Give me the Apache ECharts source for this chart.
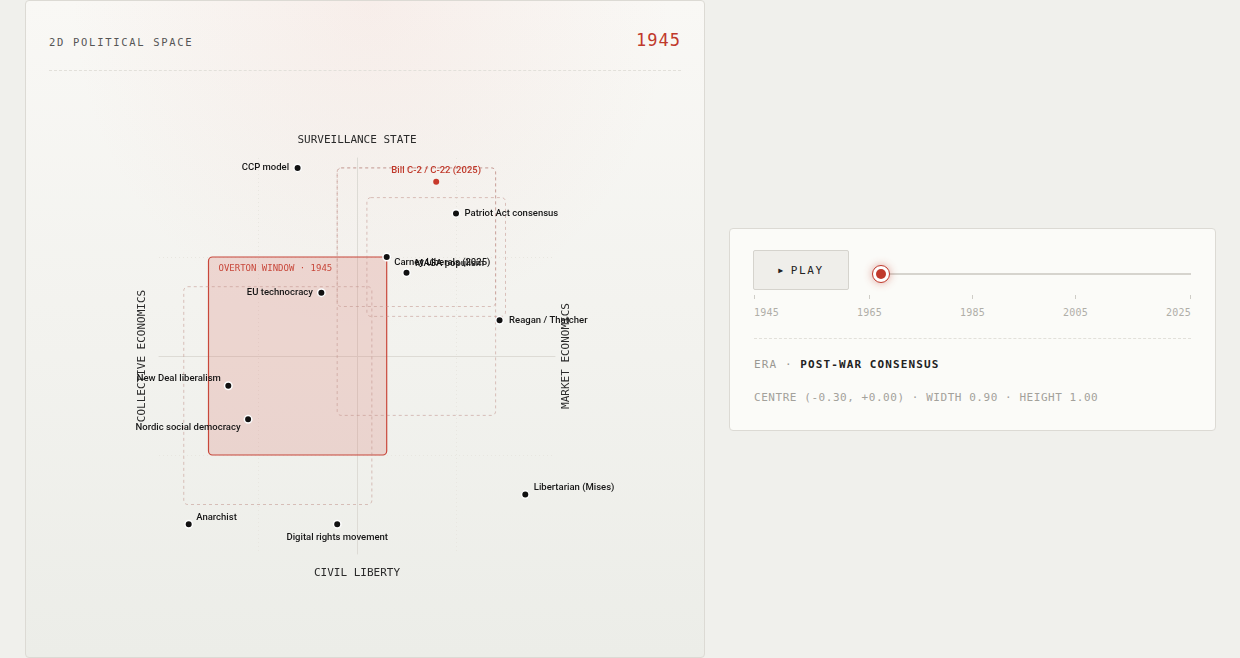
<!DOCTYPE html>
<html><head><meta charset="utf-8">
<script src="https://cdn.jsdelivr.net/npm/echarts@6/dist/echarts.min.js"></script>
<style>
html,body{margin:0;padding:0;width:1240px;height:658px;background:#f0f0ec;overflow:hidden;font-family:"DejaVu Sans Mono",monospace;}
#card{position:absolute;left:25px;top:0;width:680px;height:658px;box-sizing:border-box;border:1px solid #dcdad4;border-radius:4px;
background:radial-gradient(ellipse 300px 330px at 345px 0px, rgba(236,170,160,0.13), rgba(236,170,160,0) 100%), linear-gradient(#f9f8f5,#ecede8);}
#title{position:absolute;left:23px;top:35px;font-size:10.5px;letter-spacing:1.7px;color:#555;}
#year{position:absolute;right:23px;top:29px;font-size:17px;letter-spacing:1px;color:#c0392b;}
#sep{position:absolute;left:23px;right:23px;top:69px;border-top:1px dashed #e2e0da;}
#chart{position:absolute;left:25px;top:0;width:680px;height:658px;z-index:1;}
#panel{position:absolute;left:729px;top:228px;width:487px;height:203px;box-sizing:border-box;border:1px solid #dcdad4;border-radius:4px;background:#fbfbf8;}
#play{position:absolute;left:23px;top:21px;width:96px;height:40px;box-sizing:border-box;border:1px solid #d5d3cd;border-radius:2px;background:#efeeea;
display:flex;align-items:center;justify-content:center;font-size:11px;letter-spacing:1.6px;color:#222;}
#play .tri{font-size:8px;margin-right:6px;}
#track{position:absolute;left:152px;top:44px;width:309px;height:2px;background:#d6d4ce;}
#knob{position:absolute;left:142px;top:36px;width:18px;height:18px;box-sizing:border-box;border-radius:50%;border:1.5px solid #c0392b;background:#fff;box-shadow:0 0 8px rgba(192,57,43,0.45);}
#knob::after{content:"";position:absolute;left:2.5px;top:2.5px;width:10px;height:10px;border-radius:50%;background:#c0392b;}
#ticks{position:absolute;left:24px;top:66px;width:437px;display:flex;justify-content:space-between;}
#ticks .t{position:relative;font-size:10px;letter-spacing:0.2px;color:#b0aea8;padding-top:12px;}
#ticks .t::before{content:"";position:absolute;top:0;width:1px;height:4px;background:#cfcdc7;left:50%;}
#ticks .t.first::before{left:0;}
#ticks .t.last::before{left:auto;right:0;}
#psep{position:absolute;left:24px;top:109px;width:437px;border-top:1px dashed #e2e0da;}
#era{position:absolute;left:24px;top:129px;font-size:11px;letter-spacing:1.1px;color:#9a9893;}
#era b{color:#222;font-weight:600;}
#centre{position:absolute;left:24px;top:162px;font-size:11px;letter-spacing:0.55px;color:#a3a19b;}
</style></head>
<body>
<div id="card"><div id="title">2D POLITICAL SPACE</div><div id="year"></div><div id="sep"></div></div>
<div id="chart"></div>
<div id="panel">
  <div id="play"><span class="tri">▶</span>PLAY</div>
  <div id="track"></div><div id="knob"></div>
  <div id="ticks"></div>
  <div id="psep"></div>
  <div id="era"></div>
  <div id="centre"></div>
</div>
<script>
// ---- data ----
const pointNames = ['CCP model','Bill C-2 / C-22 (2025)','Patriot Act consensus','Carney Liberals (2025)','MAGA populism','EU technocracy','Reagan / Thatcher','New Deal liberalism','Nordic social democracy','Libertarian (Mises)','Anarchist','Digital rights movement'];
const pointX = [-0.30, 0.40, 0.50, 0.15, 0.25, -0.18, 0.72, -0.65, -0.55, 0.85, -0.85, -0.10];
const pointY = [0.95, 0.88, 0.72, 0.50, 0.42, 0.32, 0.18, -0.15, -0.32, -0.70, -0.85, -0.85];
const highlightedPoints = ['Bill C-2 / C-22 (2025)'];

const windowYears = [1945, 1965, 1985, 2005, 2025];
const windowCX = [-0.30, -0.40, 0.30, 0.40, 0.30];
const windowCY = [0.00, -0.20, 0.325, 0.50, 0.60];
const windowW = [0.90, 0.95, 0.80, 0.70, 0.80];
const windowH = [1.00, 1.10, 1.25, 0.60, 0.70];
const currentYear = 1945;
const currentEra = 'POST-WAR CONSENSUS';
const sliderTicks = [1945, 1965, 1985, 2005, 2025];
const axisNames = {top:'SURVEILLANCE STATE', bottom:'CIVIL LIBERTY', left:'COLLECTIVE ECONOMICS', right:'MARKET ECONOMICS'};

// ---- label placement (style only) ----
const labelPlacement = {
  'CCP model':['left',4,[0,0]],
  'Bill C-2 / C-22 (2025)':['top',3,[0,0]],
  'Patriot Act consensus':['right',4,[0,0]],
  'Carney Liberals (2025)':['right',3,[0,6]],
  'MAGA populism':['right',4,[0,-9]],
  'EU technocracy':['left',4,[0,0]],
  'Reagan / Thatcher':['right',5,[0,0]],
  'New Deal liberalism':['left',3,[0,-7]],
  'Nordic social democracy':['left',3,[0,8]],
  'Libertarian (Mises)':['right',4,[0,-7]],
  'Anarchist':['right',3,[0,-7]],
  'Digital rights movement':['bottom',4,[0,0]]
};

// ---- HTML panel text ----
document.getElementById('year').textContent = String(currentYear);
const ci = windowYears.indexOf(currentYear);
const fmt = v => (v >= 0 ? '+' : '-') + Math.abs(v).toFixed(2);
document.getElementById('era').innerHTML = 'ERA · <b>' + currentEra + '</b>';
document.getElementById('centre').textContent = 'CENTRE (' + fmt(windowCX[ci]) + ', ' + fmt(windowCY[ci]) + ') · WIDTH ' + windowW[ci].toFixed(2) + ' · HEIGHT ' + windowH[ci].toFixed(2);
const tk = document.getElementById('ticks');
sliderTicks.forEach((y, i) => {
  const d = document.createElement('div');
  d.className = 't' + (i === 0 ? ' first' : '') + (i === sliderTicks.length - 1 ? ' last' : '');
  d.textContent = y;
  tk.appendChild(d);
});

// ---- chart ----
const chart = echarts.init(document.getElementById('chart'), null, {renderer:'canvas'});
const windowData = windowYears.map((y, i) => [windowCX[i], windowCY[i], windowW[i], windowH[i], y]);
windowData.sort((a, b) => (a[4] === currentYear ? -1 : 0) - (b[4] === currentYear ? -1 : 0));

const pointData = pointNames.map((n, i) => {
  const hl = highlightedPoints.includes(n);
  const lp = labelPlacement[n];
  return {
    name: n, value: [pointX[i], pointY[i]],
    symbolSize: hl ? 6 : 7.5,
    itemStyle: hl ? {color:'#c8392b', borderWidth:0, opacity:1} : {color:'#111111', borderColor:'#ffffff', borderWidth:1.5, opacity:1},
    label: {position: lp[0], distance: lp[1], offset: lp[2], color: hl ? '#c0392b' : '#161616'}
  };
});

const axisCommon = {
  type:'value', min:-1, max:1, interval:0.5,
  axisLine:{show:true, onZero:true, lineStyle:{color:'#dddbd5', width:1}},
  axisTick:{show:false}, axisLabel:{show:false},
  splitLine:{show:true, showMinLine:false, showMaxLine:false, lineStyle:{color:'#e8e6e0', type:[1,3], width:1}}
};

chart.setOption({
  animation:false,
  grid:{left:134, top:158, width:396, height:396, containLabel:false},
  xAxis: Object.assign({}, axisCommon),
  yAxis: Object.assign({}, axisCommon),
  series:[
    {
      type:'custom', z:2, silent:true,
      data: windowData,
      renderItem(params, api){
        const cx = api.value(0), cy = api.value(1), w = api.value(2), h = api.value(3), yr = api.value(4);
        const p1 = api.coord([cx - w/2, cy + h/2]);
        const p2 = api.coord([cx + w/2, cy - h/2]);
        const cur = yr === currentYear;
        const rect = {type:'rect', shape:{x:p1[0], y:p1[1], width:p2[0]-p1[0], height:p2[1]-p1[1], r:4},
          style: cur ? {fill:'rgba(214,108,98,0.22)', stroke:'#c8473a', lineWidth:1.2}
                     : {fill:'none', stroke:'rgba(190,140,132,0.5)', lineWidth:1, lineDash:[3,3]}};
        if (!cur) return rect;
        return {type:'group', children:[rect, {type:'text', x:p1[0]+10, y:p1[1]+12,
          style:{text:'OVERTON WINDOW · ' + yr, fill:'#c8473a', font:'500 9px "DejaVu Sans Mono", monospace', verticalAlign:'middle'}}]};
      }
    },
    {
      type:'scatter', z:5, symbol:'circle',
      itemStyle:{opacity:1},
      data: pointData,
      label:{show:true, formatter:'{b}', fontFamily:'Roboto, sans-serif', fontSize:9.5, fontWeight:500}
    }
  ]
});

const pTop = chart.convertToPixel({gridIndex:0}, [0, 1]);
const pBot = chart.convertToPixel({gridIndex:0}, [0, -1]);
const pLft = chart.convertToPixel({gridIndex:0}, [-1, 0]);
const pRgt = chart.convertToPixel({gridIndex:0}, [1, 0]);
const nameStyle = t => ({text:t, fill:'#2a2a2a', font:'11px "DejaVu Sans Mono", monospace', align:'center', verticalAlign:'middle'});
chart.setOption({graphic:[
  {type:'text', x:pTop[0], y:pTop[1]-18, style:nameStyle(axisNames.top)},
  {type:'text', x:pBot[0], y:pBot[1]+19, style:nameStyle(axisNames.bottom)},
  {type:'text', x:pLft[0]-17, y:pLft[1], rotation:Math.PI/2, style:nameStyle(axisNames.left)},
  {type:'text', x:pRgt[0]+11, y:pRgt[1], rotation:Math.PI/2, style:nameStyle(axisNames.right)}
]});
</script>
</body></html>
